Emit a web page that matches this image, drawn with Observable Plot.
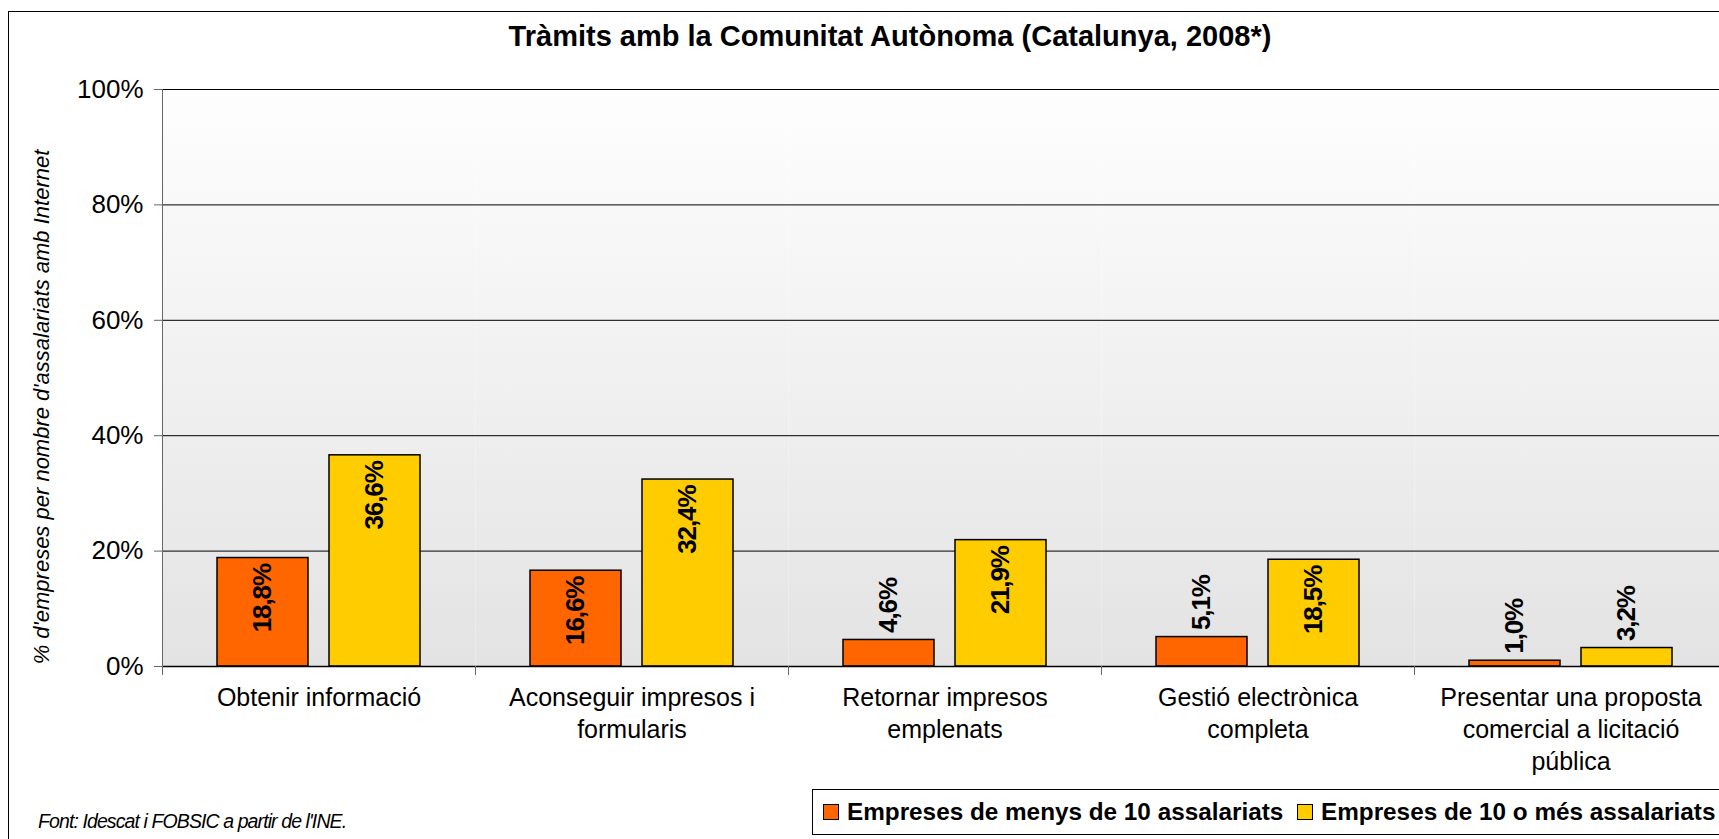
<!DOCTYPE html>
<html>
<head>
<meta charset="utf-8">
<script src="https://cdn.jsdelivr.net/npm/d3@7"></script>
<script src="https://cdn.jsdelivr.net/npm/@observablehq/plot@0.6"></script>
<style>
  body { margin: 0; background: #fff; }
  #wrap { position: relative; width: 1719px; height: 839px; overflow: hidden; background: #fff; font-family: "Liberation Sans", Arial, sans-serif; }
  #outer { position: absolute; left: 8px; top: 11px; width: 1800px; height: 900px; border: 1px solid #000; box-sizing: border-box; }
  #chart { position: absolute; left: 0; top: 0; width: 1740px; }
  #chart svg { max-width: none !important; }
  #title { position: absolute; left: 0; top: 20px; width: 1780px; text-align: center; font-weight: bold; font-size: 29px; line-height: 32px; color: #000; }
  #ytitle { position: absolute; left: 42px; top: 407px; transform: translate(-50%, -50%) rotate(-90deg); white-space: nowrap; font-style: italic; font-size: 22px; color: #000; }
  #caption { position: absolute; left: 38px; top: 810px; font-style: italic; font-size: 19.5px; letter-spacing: -0.9px; color: #000; white-space: nowrap; }
  #legend { position: absolute; left: 812px; top: 789px; width: 1000px; height: 46px; border: 1px solid #000; box-sizing: border-box; background: #fff; }
  .li { position: absolute; top: 0; height: 44px; display: flex; align-items: center; white-space: nowrap; font-weight: bold; font-size: 24.3px; color: #000; }
  .sw { width: 14px; height: 14px; border: 1px solid #000; margin-right: 8px; }
</style>
</head>
<body>
<div id="wrap">
  <div id="outer"></div>
  <div id="chart"></div>
  <div id="title"></div>
  <div id="ytitle"></div>
  <div id="caption"></div>
  <div id="legend"></div>
</div>
<script>
// ---- data ----
const chartTitle = "Tràmits amb la Comunitat Autònoma (Catalunya, 2008*)";
const yTitle = "% d'empreses per nombre d'assalariats amb Internet";
const sourceNote = "Font: Idescat i FOBSIC a partir de l'INE.";
const categories = [
  "Obtenir informació",
  "Aconseguir impresos i formularis",
  "Retornar impresos emplenats",
  "Gestió electrònica completa",
  "Presentar una proposta comercial a licitació pública"
];
const categoryLabels = [
  "Obtenir informació",
  "Aconseguir impresos i\nformularis",
  "Retornar impresos\nemplenats",
  "Gestió electrònica\ncompleta",
  "Presentar una proposta\ncomercial a licitació\npública"
];
const series = ["Empreses de menys de 10 assalariats", "Empreses de 10 o més assalariats"];
const seriesColors = ["#FF6600", "#FFCC00"];
const menys10 = [18.8, 16.6, 4.6, 5.1, 1.0];
const mes10 = [36.6, 32.4, 21.9, 18.5, 3.2];
const yTicks = [0, 20, 40, 60, 80, 100];

const data = categories.flatMap((c, i) => [
  {category: c, series: series[0], value: menys10[i]},
  {category: c, series: series[1], value: mes10[i]}
]);
const fmt = v => v.toFixed(1).replace(".", ",") + "%";
const insideThreshold = 10;

// ---- layout ----
const W = 1740, H = 839;
const mL = 162, mR = 13, mT = 89, mB = 173;
const plotH = H - mT - mB;

const svg = Plot.plot({
  width: W,
  height: H,
  marginLeft: mL,
  marginRight: mR,
  marginTop: mT,
  marginBottom: mB,
  style: {fontFamily: "'Liberation Sans', Arial, sans-serif", background: "transparent", overflow: "visible", color: "#000", maxWidth: "none"},
  fx: {domain: categories, padding: 0, axis: null, label: null},
  x: {domain: series, paddingInner: 0.1875, paddingOuter: 0.491, axis: null, label: null},
  y: {domain: [0, 100], axis: null, label: null},
  color: {domain: series, range: seriesColors},
  marks: [
    Plot.frame({fill: "url(#bgGrad)", stroke: "none"}),
    Plot.ruleY(yTicks.filter(d => d > 0), {stroke: "#000", strokeWidth: 1}),
    Plot.barY(data, {fx: "category", x: "series", y: "value", fill: "series", stroke: "#000", strokeWidth: 1.5}),
    Plot.ruleY([0], {stroke: "#000", strokeWidth: 1.5}),
    Plot.frame({anchor: "left", stroke: "#666", insetTop: plotH, insetBottom: -8}),
    Plot.frame({anchor: "left", facetAnchor: "left", stroke: "#666", insetBottom: -8}),
    Plot.axisY({ticks: yTicks, tickFormat: d => d + "%", tickSize: 8, tickPadding: 11, fontSize: 26, stroke: "#666", label: null}),
    Plot.axisFx({domain: categories, anchor: "bottom", tickSize: 0, tickPadding: 17, fontSize: 25, lineHeight: 1.28, label: null,
      tickFormat: d => categoryLabels[categories.indexOf(d)]}),
    Plot.text(data, {filter: d => d.value > insideThreshold, fx: "category", x: "series", y: "value", text: d => fmt(d.value),
      rotate: -90, textAnchor: "end", dy: 6, fontSize: 26, fontWeight: "bold", fill: "#000"}),
    Plot.text(data, {filter: d => d.value <= insideThreshold, fx: "category", x: "series", y: "value", text: d => fmt(d.value),
      rotate: -90, textAnchor: "start", dy: -7, fontSize: 26, fontWeight: "bold", fill: "#000"})
  ]
});

// gradient background for the plot area
const defs = d3.select(svg).insert("defs", ":first-child");
const lg = defs.append("linearGradient").attr("id", "bgGrad").attr("x1", 0).attr("y1", 0).attr("x2", 0).attr("y2", 1);
lg.append("stop").attr("offset", "0%").attr("stop-color", "#fefefe");
lg.append("stop").attr("offset", "100%").attr("stop-color", "#e3e3e3");
// slightly condensed bar labels
d3.select(svg).selectAll('g[aria-label="text"] text').style("letter-spacing", "-1.1px");

document.getElementById("chart").appendChild(svg);
document.getElementById("title").textContent = chartTitle;
document.getElementById("ytitle").textContent = yTitle;
document.getElementById("caption").textContent = sourceNote;

const legend = document.getElementById("legend");
const legendX = [10, 484];
series.forEach((s, i) => {
  const item = document.createElement("div");
  item.className = "li";
  item.style.left = legendX[i] + "px";
  const sw = document.createElement("span");
  sw.className = "sw";
  sw.style.background = seriesColors[i];
  const t = document.createElement("span");
  t.textContent = s;
  item.appendChild(sw);
  item.appendChild(t);
  legend.appendChild(item);
});
</script>
</body>
</html>
